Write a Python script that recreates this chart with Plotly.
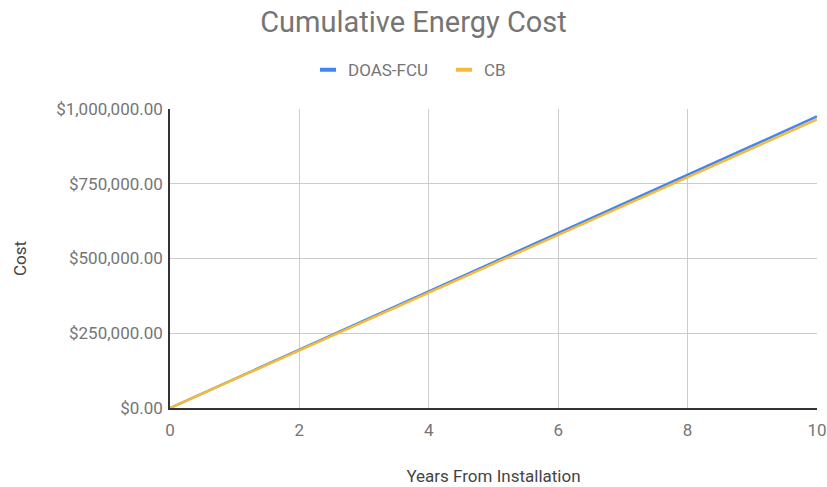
import plotly.graph_objects as go

# Cumulative energy cost per year since installation
years = [0, 1, 2, 3, 4, 5, 6, 7, 8, 9, 10]
doas_fcu = [0, 97500, 195000, 292500, 390000, 487500, 585000, 682500, 780000, 877500, 975000]
cb = [0, 96500, 193000, 289500, 386000, 482500, 579000, 675500, 772000, 868500, 965000]

y_ticks = [0, 250000, 500000, 750000, 1000000]
y_tick_text = ["$0.00", "$250,000.00", "$500,000.00", "$750,000.00", "$1,000,000.00"]
x_ticks = [0, 2, 4, 6, 8, 10]

series = [("DOAS-FCU", doas_fcu, "#4285F4"), ("CB", cb, "#F4BA38")]

fig = go.Figure()
for name, values, color in series:
    fig.add_trace(go.Scatter(x=years, y=values, name=name, mode="lines",
                             line=dict(color=color, width=2.5), showlegend=False))
# short bar-style legend keys
for name, values, color in series:
    fig.add_trace(go.Scatter(x=[None], y=[None], name=name, mode="markers",
                             marker=dict(symbol="line-ew", size=11.5,
                                         line=dict(color=color, width=4))))

fig.update_layout(
    width=827, height=487,
    margin=dict(l=170, r=10, t=109, b=79),
    paper_bgcolor="white", plot_bgcolor="white",
    font=dict(family="Roboto", color="#757575", size=17),
    title=dict(text="Cumulative Energy Cost", x=0.5, xanchor="center",
               y=0.955, yanchor="middle",
               font=dict(family="Roboto", size=29, color="#757575")),
    legend=dict(orientation="h", x=0.2133, xanchor="left", y=1.13, yanchor="middle",
                entrywidth=91, entrywidthmode="pixels",
                font=dict(size=17, color="#757575")),
    showlegend=True,
)
fig.update_xaxes(
    range=[0, 10], tickvals=x_ticks, showgrid=True, gridcolor="#cccccc", gridwidth=1,
    showline=True, linecolor="#333333", linewidth=1.5, zeroline=False,
    ticks="", ticklabelstandoff=6, tickfont=dict(size=17, color="#757575"),
    automargin=False,
    title=dict(text="Years From Installation", standoff=31,
               font=dict(size=17, color="#444444")),
)
fig.update_yaxes(
    range=[0, 1000000], tickvals=y_ticks, ticktext=y_tick_text,
    showgrid=True, gridcolor="#cccccc", gridwidth=1,
    showline=True, linecolor="#333333", linewidth=1.5, zeroline=False,
    ticks="", ticklabelstandoff=2, tickfont=dict(size=17, color="#757575"),
    automargin=False,
    title=dict(text="Cost", standoff=25, font=dict(size=17, color="#444444")),
)

fig.write_html("out.html")
